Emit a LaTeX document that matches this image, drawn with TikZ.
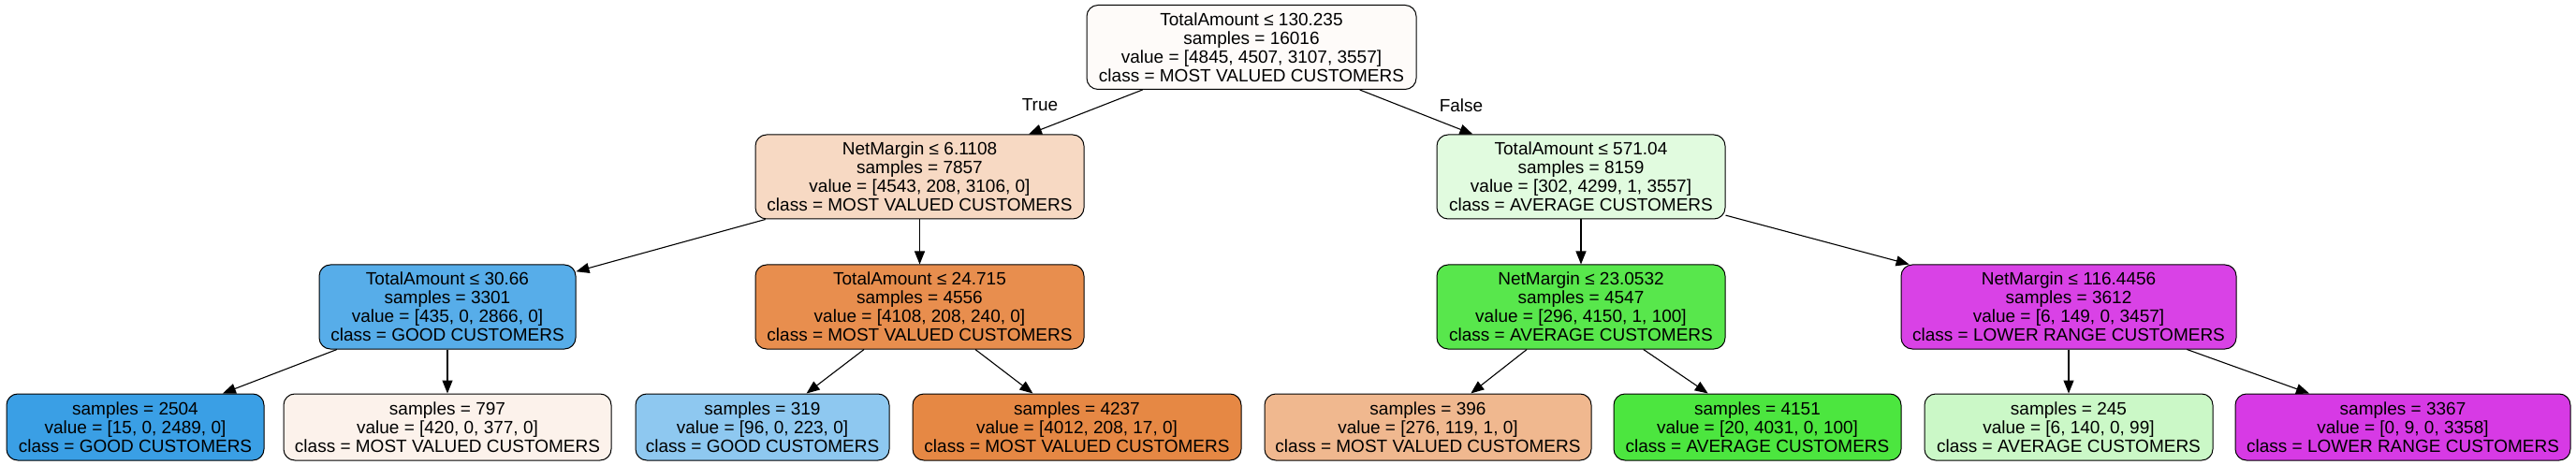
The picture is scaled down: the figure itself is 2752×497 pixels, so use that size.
\documentclass[tikz,border=0pt]{standalone}
\usepackage{fontspec}
\setmainfont{Liberation Sans}
\usepackage{tikz}
\usetikzlibrary{arrows.meta,shapes,positioning}
\usepackage{xcolor}
\definecolor{dtroot}{RGB}{254,251,249}
\definecolor{dtmvclight}{RGB}{247,217,195}
\definecolor{dtavglight}{RGB}{225,251,223}
\definecolor{dtgood}{RGB}{87,173,233}
\definecolor{dtmvc}{RGB}{232,142,78}
\definecolor{dtavg}{RGB}{88,231,76}
\definecolor{dtlower}{RGB}{217,66,230}
\definecolor{dtleafgood}{RGB}{58,159,229}
\definecolor{dtleafmvcpale}{RGB}{252,242,235}
\definecolor{dtleafgoodlight}{RGB}{142,200,240}
\definecolor{dtleafmvc}{RGB}{230,136,68}
\definecolor{dtleafmvcmid}{RGB}{240,184,143}
\definecolor{dtleafavg}{RGB}{76,230,63}
\definecolor{dtleafavglight}{RGB}{203,248,199}
\definecolor{dtleaflower}{RGB}{215,58,229}
\tikzstyle{splitbox} = [rectangle, rounded corners=6pt, minimum height=45pt, inner sep=1pt, align=center, draw=black, line width=0.5pt, font=\fontsize{9.5pt}{10.05pt}\selectfont]
\tikzstyle{leafbox} = [splitbox, minimum height=35.5pt]
\tikzstyle{branch} = [-{Triangle[length=7pt,width=5.5pt]}, line width=0.55pt, color=black]

\begin{document}
\begin{tikzpicture}[x=0.5pt, y=-0.5pt]
\useasboundingbox (0,0) rectangle (2752,497);
% Root split
\node[splitbox, minimum width=176pt, fill=dtroot] (root) at (1337,50.5) {TotalAmount ≤ 130.235\\samples = 16016\\value = [4845, 4507, 3107, 3557]\\class = MOST VALUED CUSTOMERS};

% Depth 1
\node[splitbox, minimum width=175.5pt, fill=dtmvclight] (nm1) at (982.5,189) {NetMargin ≤ 6.1108\\samples = 7857\\value = [4543, 208, 3106, 0]\\class = MOST VALUED CUSTOMERS};
\node[splitbox, minimum width=154pt, fill=dtavglight] (ta1) at (1689,189) {TotalAmount ≤ 571.04\\samples = 8159\\value = [302, 4299, 1, 3557]\\class = AVERAGE CUSTOMERS};

% Depth 2
\node[splitbox, minimum width=137pt, fill=dtgood] (ta2) at (478,328) {TotalAmount ≤ 30.66\\samples = 3301\\value = [435, 0, 2866, 0]\\class = GOOD CUSTOMERS};
\node[splitbox, minimum width=175.5pt, fill=dtmvc] (ta3) at (982.5,328) {TotalAmount ≤ 24.715\\samples = 4556\\value = [4108, 208, 240, 0]\\class = MOST VALUED CUSTOMERS};
\node[splitbox, minimum width=154pt, fill=dtavg] (nm2) at (1689,328) {NetMargin ≤ 23.0532\\samples = 4547\\value = [296, 4150, 1, 100]\\class = AVERAGE CUSTOMERS};
\node[splitbox, minimum width=179pt, fill=dtlower] (nm3) at (2210,328) {NetMargin ≤ 116.4456\\samples = 3612\\value = [6, 149, 0, 3457]\\class = LOWER RANGE CUSTOMERS};

% Leaves
\node[leafbox, minimum width=137.5pt, fill=dtleafgood] (lf1) at (144.5,456.5) {samples = 2504\\value = [15, 0, 2489, 0]\\class = GOOD CUSTOMERS};
\node[leafbox, minimum width=175pt, fill=dtleafmvcpale] (lf2) at (478,456.5) {samples = 797\\value = [420, 0, 377, 0]\\class = MOST VALUED CUSTOMERS};
\node[leafbox, minimum width=135.5pt, fill=dtleafgoodlight] (lf3) at (814.5,456.5) {samples = 319\\value = [96, 0, 223, 0]\\class = GOOD CUSTOMERS};
\node[leafbox, minimum width=175.5pt, fill=dtleafmvc] (lf4) at (1150.5,456.5) {samples = 4237\\value = [4012, 208, 17, 0]\\class = MOST VALUED CUSTOMERS};
\node[leafbox, minimum width=174.5pt, fill=dtleafmvcmid] (lf5) at (1525.5,456.5) {samples = 396\\value = [276, 119, 1, 0]\\class = MOST VALUED CUSTOMERS};
\node[leafbox, minimum width=153.5pt, fill=dtleafavg] (lf6) at (1877.5,456.5) {samples = 4151\\value = [20, 4031, 0, 100]\\class = AVERAGE CUSTOMERS};
\node[leafbox, minimum width=154pt, fill=dtleafavglight] (lf7) at (2210,456.5) {samples = 245\\value = [6, 140, 0, 99]\\class = AVERAGE CUSTOMERS};
\node[leafbox, minimum width=179pt, fill=dtleaflower] (lf8) at (2567,456.5) {samples = 3367\\value = [0, 9, 0, 3358]\\class = LOWER RANGE CUSTOMERS};

% Branch labels
\node[font=\fontsize{9.5pt}{10.05pt}\selectfont] (lbltrue) at (1111,112.5) {True};
\node[font=\fontsize{9.5pt}{10.05pt}\selectfont] (lblfalse) at (1561,112.5) {False};

\draw[branch] (root) -- (nm1);
\draw[branch] (root) -- (ta1);
\foreach \a/\b in {nm1/ta2, nm1/ta3, ta1/nm2, ta1/nm3, ta2/lf1, ta2/lf2, ta3/lf3, ta3/lf4, nm2/lf5, nm2/lf6, nm3/lf7, nm3/lf8}
  \draw[branch] (\a) -- (\b);
\end{tikzpicture}
\end{document}
